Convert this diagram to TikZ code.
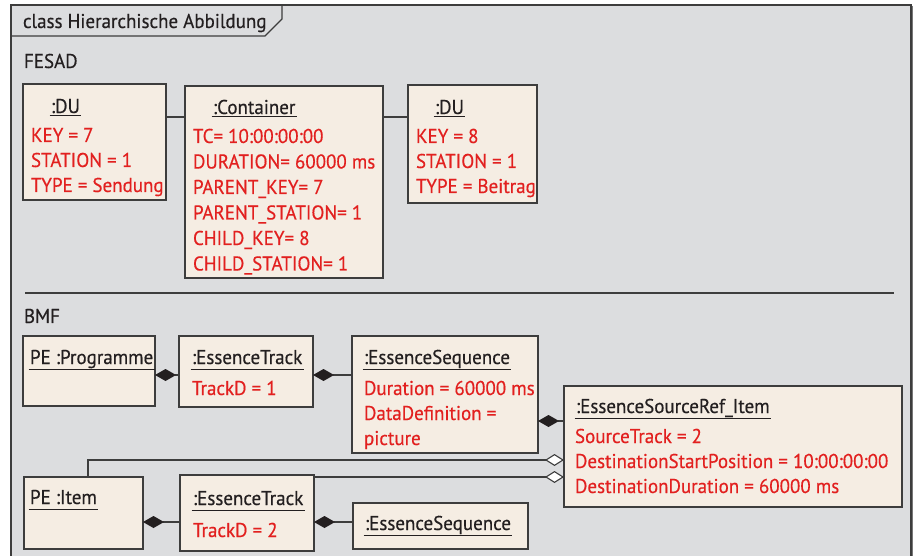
\documentclass[tikz,border=0pt]{standalone}
\usepackage{fontspec}
\setmainfont{PT Sans}[FakeStretch=0.95, FakeBold=0.4]
\usetikzlibrary{arrows.meta}

\definecolor{framebg}{HTML}{DCDDDF}
\definecolor{boxbg}{HTML}{F5EDE3}
\definecolor{attrred}{HTML}{E2201F}
\definecolor{ink}{HTML}{231F20}
\definecolor{edge}{HTML}{3D3D3D}

% object name, underlined #1 pt below the baseline
\newcommand\objname[2][3]{\setbox0=\hbox{#2}\rlap{\kern-1.5pt\rule[-#1pt]{\dimexpr\wd0+3pt\relax}{1.1pt}}\box0}
% object box from (x1,y1) to (x2,y2), y counted downwards
\newcommand\objbox[5]{\node[objbox, minimum width={#4-#2}, minimum height={#5-#3}] (#1) at (#2,#3) {};}

\tikzset{
  objbox/.style={draw=edge, fill=boxbg, line width=1.1pt, rectangle, inner sep=0pt, outer sep=0pt, anchor=north west},
  lbl/.style={inner sep=0pt, outer sep=0pt, anchor=base west, text=ink, font=\fontsize{20}{25}\selectfont},
  attr/.style={lbl, text=attrred},
  link/.style={draw=edge, line width=1.1pt},
  comp/.style={link, {Diamond[length=21pt,width=12pt,fill=ink,color=ink]}-},
  aggr/.style={link, -{Diamond[length=19pt,width=12pt,open,fill=white,color=edge]}},
}

\begin{document}
\begin{tikzpicture}[x=1pt,y=-1pt]
\useasboundingbox (0,0) rectangle (919,556);
\fill[white] (0,0) rectangle (919,556);

% diagram frame with its name tab
\fill[framebg] (11,5) rectangle (911,570);
\draw[edge, line width=1.3pt] (11,570) -- (11,5) -- (911,5) -- (911,570);
\draw[edge!70, line width=1pt] (912.5,6) -- (912.5,570);
\draw[edge, line width=1.1pt] (11,36) -- (265,36) -- (282,19) -- (282,5);
\node[lbl] (diagtitle) at (23,28) {class Hierarchische Abbildung};

% ---------------- FESAD ----------------
\node[lbl] (fesad) at (24,68) {FESAD};

\objbox{du1}{23}{84}{166}{200}
\node[lbl] (du1t) at (51,113) {\objname{:DU}};
\foreach \t [count=\i from 0] in {KEY = 7, STATION = 1, TYPE = Sendung}
  \node[attr] (du1a\i) at (31,{142+25*\i}) {\t};

\objbox{cont}{185}{86}{383}{278}
\node[lbl] (contt) at (213,114) {\objname{:Container}};
\foreach \t [count=\i from 0] in {TC= 10:00:00:00, DURATION= 60000 ms, PARENT\_KEY= 7,
    PARENT\_STATION= 1, CHILD\_KEY= 8, CHILD\_STATION= 1}
  \node[attr] (conta\i) at (193,{143+25.5*\i}) {\t};

\objbox{du2}{408}{85}{537}{203}
\node[lbl] (du2t) at (435,114) {\objname{:DU}};
\foreach \t [count=\i from 0] in {KEY = 8, STATION = 1, TYPE = Beitrag}
  \node[attr] (du2a\i) at (416,{143+25*\i}) {\t};

\coordinate (yfesad) at (0,117);
\draw[link] (du1.east |- yfesad) -- (cont.west |- yfesad);
\draw[link] (cont.east |- yfesad) -- (du2.west |- yfesad);

\draw[edge, line width=1.2pt] (25,293) -- (894,293);

% ---------------- BMF ----------------
\node[lbl] (bmf) at (24,323) {BMF};

\objbox{prog}{23}{336}{155}{406}
\node[lbl] (progt) at (30,364) {\objname[6]{PE :Programme}};

\objbox{trk1}{179}{336}{313}{407}
\node[lbl] (trk1t) at (192,364) {\objname[6]{:EssenceTrack}};
\node[attr] (trk1a) at (192,395) {TrackD = 1};

\objbox{seq1}{352}{336}{538}{453}
\node[lbl] (seq1t) at (364,364) {\objname[6]{:EssenceSequence}};
\foreach \t [count=\i from 0] in {Duration = 60000 ms, DataDefinition =, picture}
  \node[attr] (seq1a\i) at (364,{395+25*\i}) {\t};

\objbox{src}{564}{386}{902}{507}
\node[lbl] (srct) at (576,413) {\objname[6]{:EssenceSourceRef\_Item}};
\foreach \t [count=\i from 0] in {SourceTrack = 2, DestinationStartPosition = 10:00:00:00,
    DestinationDuration = 60000 ms}
  \node[attr] (srca\i) at (575,{443+25*\i}) {\t};

\objbox{item}{24}{477}{143}{549}
\node[lbl] (itemt) at (30,504) {\objname[6]{PE :Item}};

\objbox{trk2}{180}{475}{314}{551}
\node[lbl] (trk2t) at (193,505) {\objname[6]{:EssenceTrack}};
\node[attr] (trk2a) at (193,537) {TrackD = 2};

\objbox{seq2}{353}{503}{528}{549}
\node[lbl] (seq2t) at (365,530) {\objname[6]{:EssenceSequence}};

% composition links
\coordinate (yrow1) at (0,375);
\coordinate (yseq) at (0,421);
\coordinate (yrow2) at (0,522);
\draw[comp] (prog.east |- yrow1) -- (trk1.west |- yrow1);
\draw[comp] (trk1.east |- yrow1) -- (seq1.west |- yrow1);
\draw[comp] (seq1.east |- yseq) -- (src.west |- yseq);
\draw[comp] (item.east |- yrow2) -- (trk2.west |- yrow2);
\draw[comp] (trk2.east |- yrow2) -- (seq2.west |- yrow2);

% aggregation links to the source reference
\coordinate (xitem) at (88,0);
\coordinate (yaggA) at (0,460);
\coordinate (yaggB) at (0,477);
\draw[aggr] (item.north -| xitem) |- (src.west |- yaggA);
\draw[aggr] (trk2.east |- yaggB) -- (src.west |- yaggB);
\end{tikzpicture}
\end{document}
